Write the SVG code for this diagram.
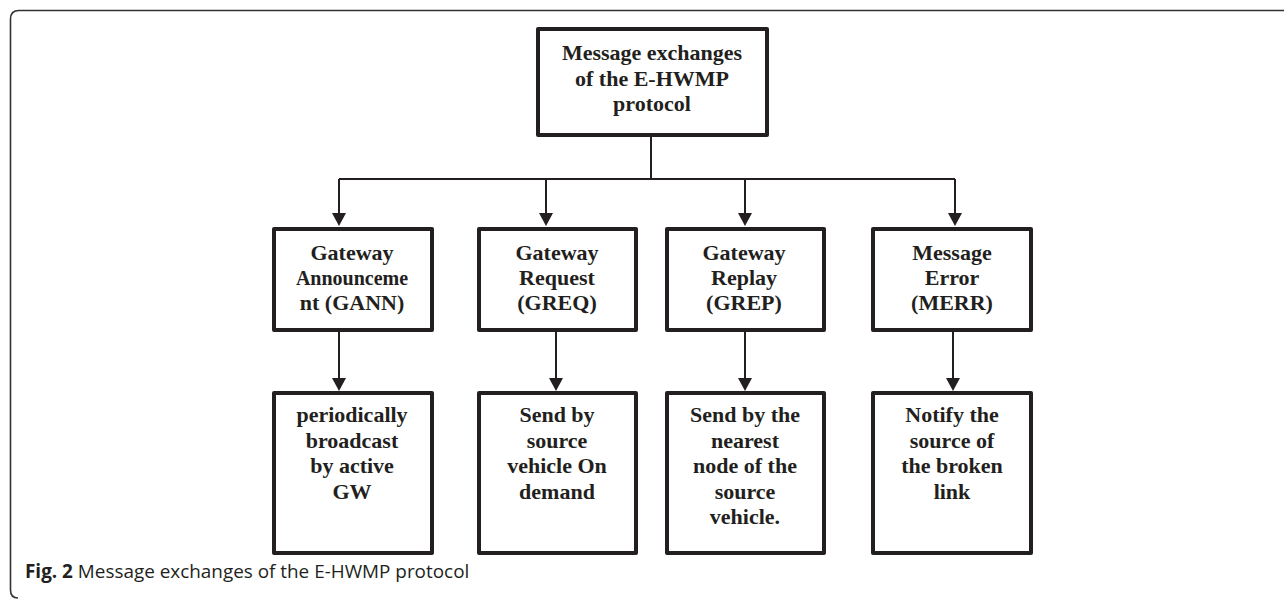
<svg xmlns="http://www.w3.org/2000/svg" width="1284" height="599" viewBox="0 0 1284 599">
<style>
.box{fill:#fff;stroke:#231f20;stroke-width:4;stroke-linejoin:round}
.t{font-family:"Liberation Serif","Times New Roman",serif;font-weight:bold;font-size:22px;fill:#231f20;text-anchor:middle}
.c{stroke:#231f20;stroke-width:2;fill:none}
.ah{fill:#231f20}
.cap{font-family:"Open Sans","Noto Sans",sans-serif;font-size:18.9px;fill:#231f20}
</style>
<rect width="1284" height="599" fill="#fff"/>
<path d="M1290,10.5 H19 Q10.5,10.5 10.5,19 V590 Q10.5,598 18,598" fill="none" stroke="#333" stroke-width="1.6"/>
<g id="connectors">
<path class="c" d="M651,136 V179"/>
<path class="c" d="M339,179 H955"/>
<path class="c" d="M339,179 V213"/>
<path class="c" d="M546,179 V213"/>
<path class="c" d="M745,179 V213"/>
<path class="c" d="M955,179 V213"/>
<polygon class="ah" points="332,213 346,213 339,226"/>
<polygon class="ah" points="539,213 553,213 546,226"/>
<polygon class="ah" points="738,213 752,213 745,226"/>
<polygon class="ah" points="948,213 962,213 955,226"/>
<path class="c" d="M339,331 V378"/>
<path class="c" d="M556,331 V378"/>
<path class="c" d="M745,331 V378"/>
<path class="c" d="M953,331 V378"/>
<polygon class="ah" points="332,378 346,378 339,391"/>
<polygon class="ah" points="549,378 563,378 556,391"/>
<polygon class="ah" points="738,378 752,378 745,391"/>
<polygon class="ah" points="946,378 960,378 953,391"/>
</g>
<g id="root">
<rect class="box" x="538" y="29" width="229" height="106"/>
<text class="t" x="652" y="60">Message exchanges</text>
<text class="t" x="652" y="86">of the E-HWMP</text>
<text class="t" x="652" y="111">protocol</text>
</g>
<g id="gann">
<rect class="box" x="274" y="229" width="158" height="101"/>
<text class="t" x="352" y="260">Gateway</text>
<text class="t" x="352" y="285" style="font-size:20px">Announceme</text>
<text class="t" x="352" y="310">nt (GANN)</text>
</g>
<g id="greq">
<rect class="box" x="479" y="229" width="157" height="101"/>
<text class="t" x="557" y="260">Gateway</text>
<text class="t" x="557" y="285">Request</text>
<text class="t" x="557" y="310">(GREQ)</text>
</g>
<g id="grep">
<rect class="box" x="667" y="229" width="157" height="101"/>
<text class="t" x="744" y="260">Gateway</text>
<text class="t" x="744" y="285">Replay</text>
<text class="t" x="744" y="310">(GREP)</text>
</g>
<g id="merr">
<rect class="box" x="873" y="229" width="158" height="101"/>
<text class="t" x="952" y="260">Message</text>
<text class="t" x="952" y="285">Error</text>
<text class="t" x="952" y="310">(MERR)</text>
</g>
<g id="gann-desc">
<rect class="box" x="274" y="393" width="158" height="160"/>
<text class="t" x="352" y="422">periodically</text>
<text class="t" x="352" y="448">broadcast</text>
<text class="t" x="352" y="473">by active</text>
<text class="t" x="352" y="499">GW</text>
</g>
<g id="greq-desc">
<rect class="box" x="479" y="393" width="157" height="160"/>
<text class="t" x="557" y="422">Send by</text>
<text class="t" x="557" y="448">source</text>
<text class="t" x="557" y="473">vehicle On</text>
<text class="t" x="557" y="499">demand</text>
</g>
<g id="grep-desc">
<rect class="box" x="667" y="393" width="157" height="160"/>
<text class="t" x="745" y="422">Send by the</text>
<text class="t" x="745" y="448">nearest</text>
<text class="t" x="745" y="473">node of the</text>
<text class="t" x="745" y="499">source</text>
<text class="t" x="745" y="524">vehicle.</text>
</g>
<g id="merr-desc">
<rect class="box" x="873" y="393" width="158" height="160"/>
<text class="t" x="952" y="422">Notify the</text>
<text class="t" x="952" y="448">source of</text>
<text class="t" x="952" y="473">the broken</text>
<text class="t" x="952" y="499">link</text>
</g>
<text class="cap" x="25" y="578"><tspan font-weight="bold">Fig. 2</tspan> Message exchanges of the E-HWMP protocol</text>
</svg>
